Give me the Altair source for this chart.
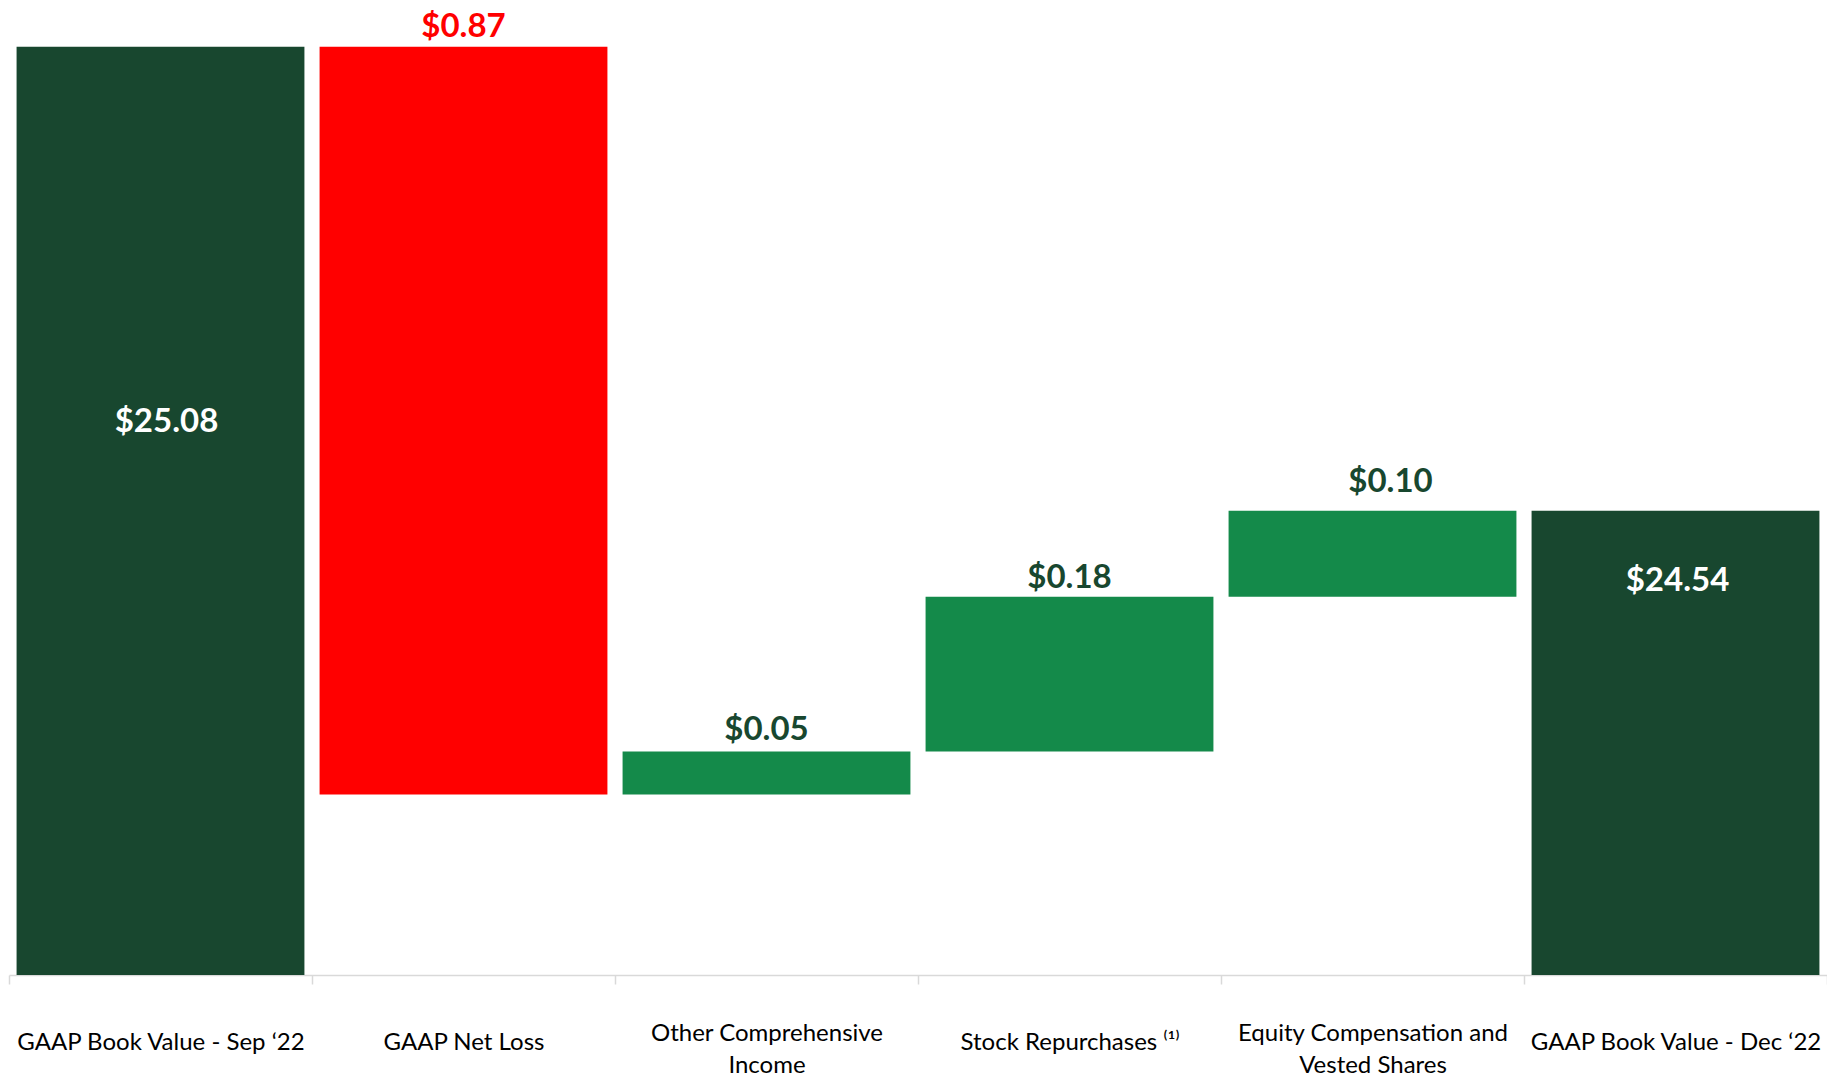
import altair as alt
import pandas as pd

categories = [
    "GAAP Book Value - Sep \u201822",
    "GAAP Net Loss",
    "Other Comprehensive\nIncome",
    "Stock Repurchases \u207d\u00b9\u207e",
    "Equity Compensation and\nVested Shares",
    "GAAP Book Value - Dec \u201822",
]
values = [25.08, -0.87, 0.05, 0.18, 0.10, 24.54]
kinds = ["total", "decrease", "increase", "increase", "increase", "total"]

# derive waterfall start/end
starts, ends = [], []
running = 0.0
for v, k in zip(values, kinds):
    if k == "total":
        starts.append(24.0)
        ends.append(v)
        running = v
    else:
        starts.append(running)
        running = round(running + v, 4)
        ends.append(running)

df = pd.DataFrame({
    "idx": list(range(len(categories))),
    "category": categories,
    "value": values,
    "kind": kinds,
    "y0": starts,
    "y1": ends,
    "ytop": [max(s, e) for s, e in zip(starts, ends)],
    "label": ["$" + format(abs(v), ".2f") for v in values],
})

DARK = "#18472f"
GREEN = "#148a4a"
RED = "#ff0000"
FONT = "Lato"

xscale = alt.Scale(paddingInner=0, paddingOuter=0)
common_axis = dict(
    orient="bottom",
    labelAngle=0,
    labelFont=FONT,
    labelFontSize=24,
    labelColor="#000000",
    labelLineHeight=32,
    labelBaseline="middle",
    labelLimit=400,
    tickSize=9,
    tickBand="extent",
)

# axis with single-line labels, ticks and domain line
axis_single = alt.Axis(
    labelExpr="indexof(datum.label, '\\n') >= 0 ? '' : datum.label",
    labelPadding=58,
    domainColor="#d9d9d9",
    domainWidth=1.5,
    tickColor="#d9d9d9",
    tickWidth=1.5,
    **common_axis,
)
# axis with the two-line labels only
axis_double = alt.Axis(
    labelExpr="indexof(datum.label, '\\n') >= 0 ? split(datum.label, '\\n') : ''",
    labelPadding=49,
    domain=False,
    tickOpacity=0,
    **common_axis,
)

yscale = alt.Scale(domain=[24.0, 25.125], nice=False, zero=False)

base = alt.Chart(df)

bars = base.mark_bar(width=alt.RelativeBandSize(0.95)).encode(
    x=alt.X("category:N", sort=categories, title=None, scale=xscale, axis=axis_single),
    y=alt.Y("y0:Q", scale=yscale, axis=None),
    y2="y1:Q",
    color=alt.Color(
        "kind:N",
        scale=alt.Scale(domain=["total", "decrease", "increase"], range=[DARK, RED, GREEN]),
        legend=None,
    ),
)

ghost = base.mark_bar(width=alt.RelativeBandSize(0.95), opacity=0).encode(
    x=alt.X("category:N", sort=categories, title=None, scale=xscale, axis=axis_double),
    y=alt.Y("y0:Q", scale=yscale, axis=None),
    y2="y1:Q",
)


def value_label(i, dy, dx=0, color=DARK):
    return base.transform_filter(f"datum.idx == {i}").mark_text(
        font=FONT, fontSize=33, fontWeight="bold", baseline="middle", dy=dy, dx=dx, color=color
    ).encode(
        x=alt.X("category:N", sort=categories, scale=xscale, axis=None),
        y=alt.Y("ytop:Q", scale=yscale),
        text="label:N",
    )


layers = [
    bars,
    ghost,
    value_label(0, 375, dx=6, color="#ffffff"),
    value_label(1, -20, color=RED),
    value_label(2, -22),
    value_label(3, -19),
    value_label(4, -29, dx=18),
    value_label(5, 70, dx=2, color="#ffffff"),
]

chart = (
    alt.layer(*layers)
    .resolve_axis(x="independent")
    .properties(
        width=1818,
        height=967,
        autosize=alt.AutoSizeParams(type="none"),
        padding={"left": 1, "top": 0, "right": 0, "bottom": 100},
        background="#ffffff",
    )
    .configure_view(stroke=None)
)

chart.save("out.html", embed_options={"renderer": "svg", "actions": False})
